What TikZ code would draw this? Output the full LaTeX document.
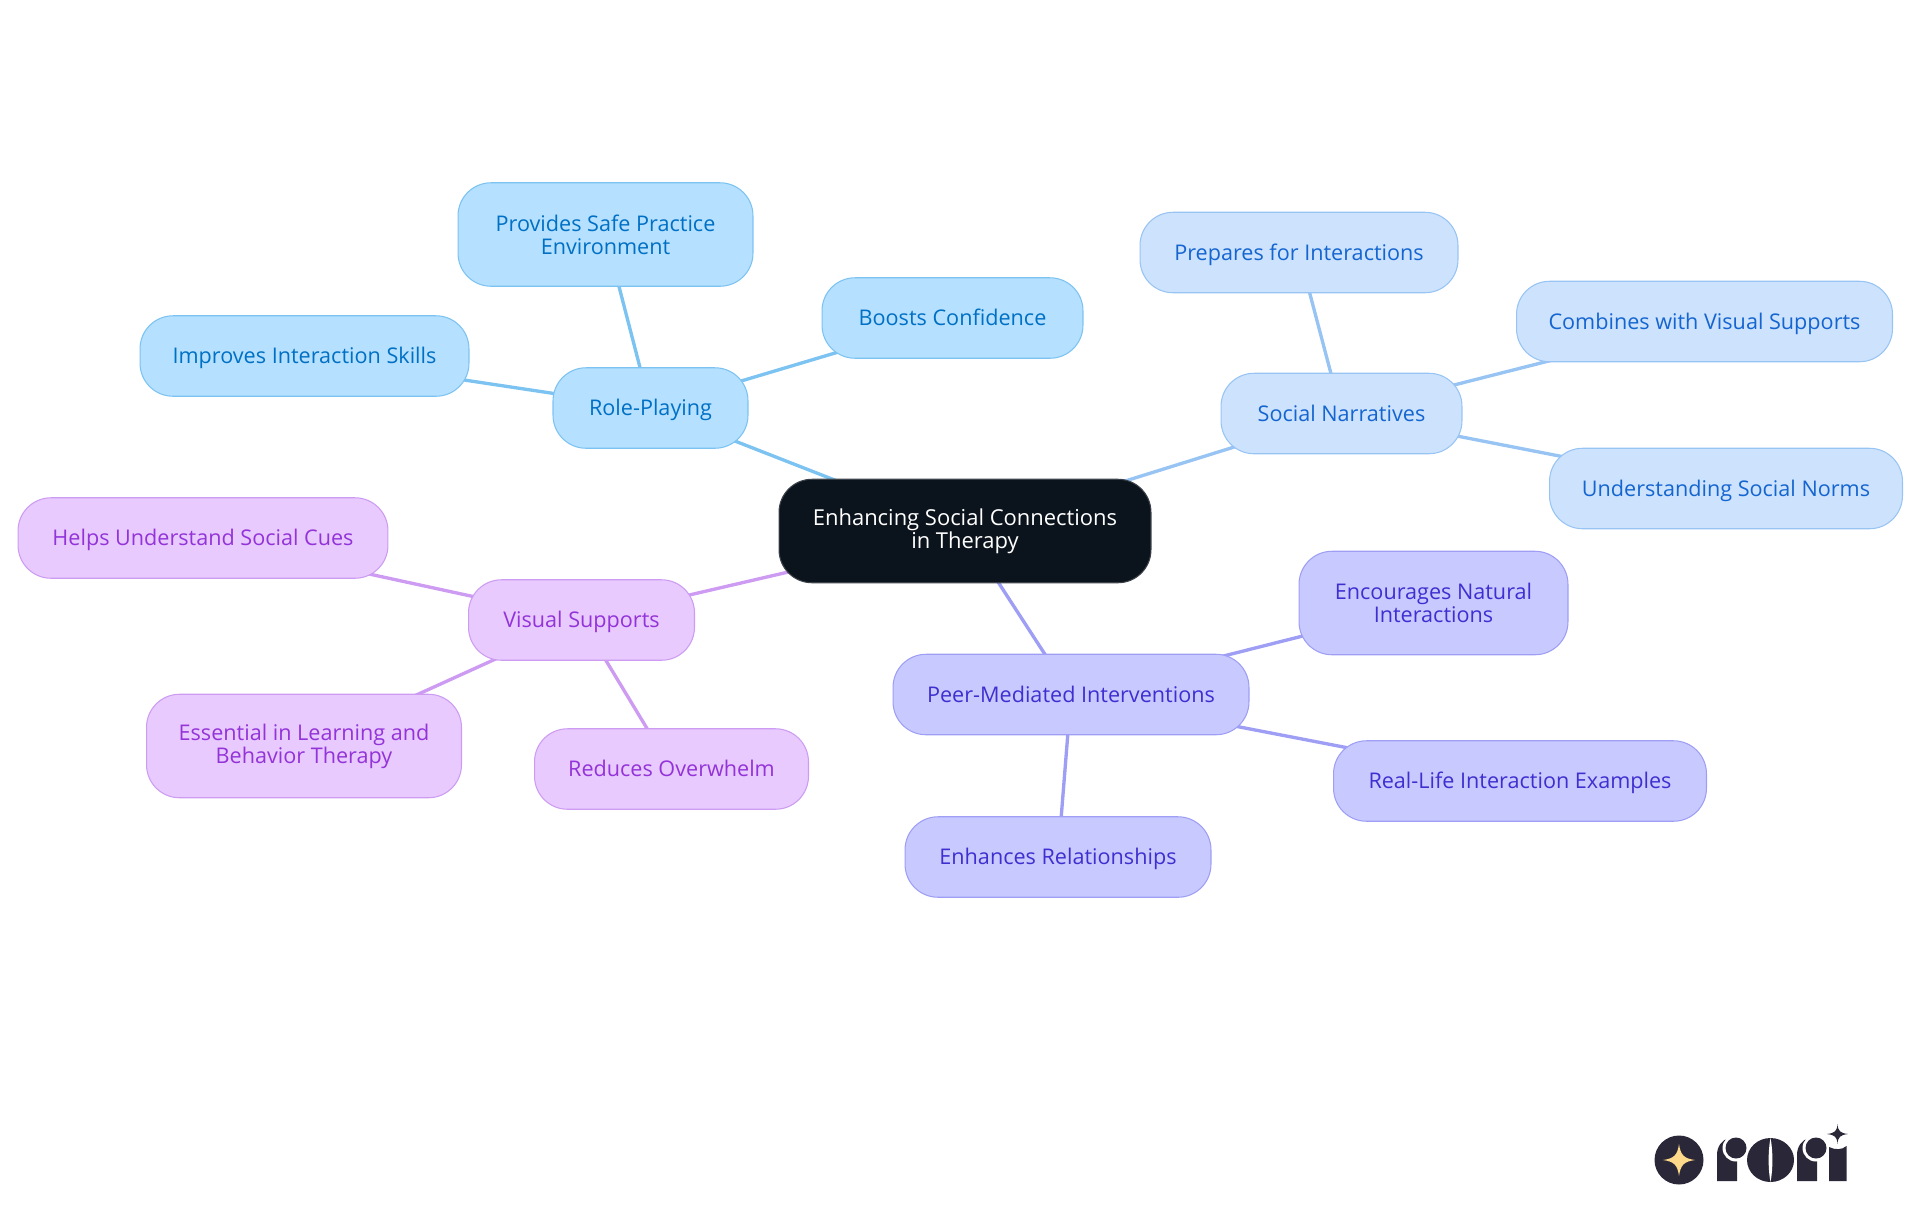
\documentclass[tikz,border=0pt]{standalone}
\usepackage{fontspec}
\setmainfont{Open Sans}[Scale=1.0]
\usetikzlibrary{backgrounds}
\definecolor{rolefill}{HTML}{B5E0FF}
\definecolor{roleline}{HTML}{7CC3F2}
\definecolor{roletext}{HTML}{0070C4}
\definecolor{socialfill}{HTML}{CCE2FD}
\definecolor{socialline}{HTML}{98C4F4}
\definecolor{socialtext}{HTML}{1565D0}
\definecolor{peerfill}{HTML}{C8CAFF}
\definecolor{peerline}{HTML}{9E9EF5}
\definecolor{peertext}{HTML}{3F2FD0}
\definecolor{visualfill}{HTML}{E8CAFF}
\definecolor{visualline}{HTML}{CD9BF2}
\definecolor{visualtext}{HTML}{9333D8}
\definecolor{rootfill}{HTML}{0B131C}
\definecolor{logodark}{HTML}{2A2838}
\definecolor{logostar}{HTML}{FFD98A}
\tikzstyle{mapbox} = [rounded corners=0.66cm, inner sep=0, line width=0.6pt, minimum height=1.61cm, align=center, text height=11pt, text depth=2.2pt, font=\fontsize{12.3}{13.1}\selectfont]
\tikzstyle{tallbox} = [minimum height=2.07cm, text height=, text depth=]
\tikzstyle{rootbox} = [mapbox, tallbox, draw=rootfill!80!white, fill=rootfill, text=white, font=\fontsize{12.5}{13.1}\selectfont]
\tikzstyle{rolebox} = [mapbox, draw=roleline, fill=rolefill, text=roletext]
\tikzstyle{socialbox} = [mapbox, draw=socialline, fill=socialfill, text=socialtext]
\tikzstyle{peerbox} = [mapbox, draw=peerline, fill=peerfill, text=peertext]
\tikzstyle{visualbox} = [mapbox, draw=visualline, fill=visualfill, text=visualtext]
\tikzstyle{link} = [line width=1.9pt]
\begin{document}
\begin{tikzpicture}[x=0.02cm, y=-0.02cm]
	\useasboundingbox (0, 0) rectangle (1920, 1215);
	\node[rootbox, minimum width=7.44cm] (root) at (965, 531) {Enhancing Social Connections\\in Therapy};

	\node[rolebox, minimum width=3.9cm] (role) at (650.5, 408) {Role-Playing};
	\node[rolebox, tallbox, minimum width=5.9cm] (safe) at (605.5, 234.5) {Provides Safe Practice\\Environment};
	\node[rolebox, minimum width=5.22cm] (confidence) at (952.5, 318) {Boosts Confidence};
	\node[rolebox, minimum width=6.58cm] (skills) at (304.5, 356) {Improves Interaction Skills};

	\node[socialbox, minimum width=4.82cm] (social) at (1341.5, 413.5) {Social Narratives};
	\node[socialbox, minimum width=6.36cm] (prepares) at (1299, 252.5) {Prepares for Interactions};
	\node[socialbox, minimum width=7.52cm] (combines) at (1704.5, 321.5) {Combines with Visual Supports};
	\node[socialbox, minimum width=7.06cm] (norms) at (1726, 488.5) {Understanding Social Norms};

	\node[peerbox, minimum width=7.12cm] (peer) at (1071, 694.5) {Peer-Mediated Interventions};
	\node[peerbox, tallbox, minimum width=5.38cm] (natural) at (1433.5, 603) {Encourages Natural\\Interactions};
	\node[peerbox, minimum width=7.46cm] (examples) at (1520, 781) {Real-Life Interaction Examples};
	\node[peerbox, minimum width=6.12cm] (relations) at (1058, 857) {Enhances Relationships};

	\node[visualbox, minimum width=4.52cm] (visual) at (581.5, 620) {Visual Supports};
	\node[visualbox, minimum width=7.4cm] (cues) at (203, 538) {Helps Understand Social Cues};
	\node[visualbox, tallbox, minimum width=6.3cm] (learning) at (304, 746) {Essential in Learning and\\Behavior Therapy};
	\node[visualbox, minimum width=5.48cm] (overwhelm) at (671.5, 769) {Reduces Overwhelm};

	\begin{scope}[on background layer]
		\draw[link, roleline] (root.center) -- (role.center);
		\draw[link, roleline] (role.center) -- (safe.center);
		\draw[link, roleline] (role.center) -- (confidence.center);
		\draw[link, roleline] (role.center) -- (skills.center);
		\draw[link, socialline] (root.center) -- (social.center);
		\draw[link, socialline] (social.center) -- (prepares.center);
		\draw[link, socialline] (social.center) -- (combines.center);
		\draw[link, socialline] (social.center) -- (norms.center);
		\draw[link, peerline] (root.center) -- (peer.center);
		\draw[link, peerline] (peer.center) -- (natural.center);
		\draw[link, peerline] (peer.center) -- (examples.center);
		\draw[link, peerline] (peer.center) -- (relations.center);
		\draw[link, visualline] (root.center) -- (visual.center);
		\draw[link, visualline] (visual.center) -- (cues.center);
		\draw[link, visualline] (visual.center) -- (learning.center);
		\draw[link, visualline] (visual.center) -- (overwhelm.center);
	\end{scope}

	% logo
	\fill[logodark] (1679, 1160) circle (24.5);
	\fill[logostar] (1679, 1144) .. controls (1680.5, 1155) and (1684, 1158.5) .. (1695, 1160) .. controls (1684, 1161.5) and (1680.5, 1165) .. (1679, 1176) .. controls (1677.5, 1165) and (1674, 1161.5) .. (1663, 1160) .. controls (1674, 1158.5) and (1677.5, 1155) .. (1679, 1144) -- cycle;
	\fill[logodark] (1717, 1181) -- (1717, 1155) .. controls (1717, 1146) and (1722, 1140) .. (1729, 1138) -- (1737, 1150) -- (1737, 1181) -- cycle;
	\fill[white] (1736, 1148) circle (13.5);
	\fill[logodark] (1736, 1148) circle (10.5);
	\fill[logodark] (1770.5, 1160) ellipse (23.5 and 22);
	\fill[white] (1770.5, 1138) .. controls (1773, 1150) and (1773, 1170) .. (1770.5, 1182) .. controls (1768, 1170) and (1768, 1150) .. (1770.5, 1138) -- cycle;
	\fill[logodark] (1797, 1181) -- (1797, 1155) .. controls (1797, 1146) and (1802, 1140) .. (1809, 1138) -- (1817, 1150) -- (1817, 1181) -- cycle;
	\fill[white] (1816, 1148) circle (13.5);
	\fill[logodark] (1816, 1148) circle (10.5);
	\fill[logodark] (1829, 1181) -- (1829, 1147) .. controls (1835, 1150) and (1842, 1150) .. (1846.5, 1146) -- (1846.5, 1181) -- cycle;
	\fill[logodark] (1837.5, 1124) .. controls (1838, 1131) and (1840, 1133) .. (1848, 1134) .. controls (1840, 1135) and (1838, 1137) .. (1837.5, 1144) .. controls (1837, 1137) and (1835, 1135) .. (1827, 1134) .. controls (1835, 1133) and (1837, 1131) .. (1837.5, 1124) -- cycle;
\end{tikzpicture}
\end{document}
